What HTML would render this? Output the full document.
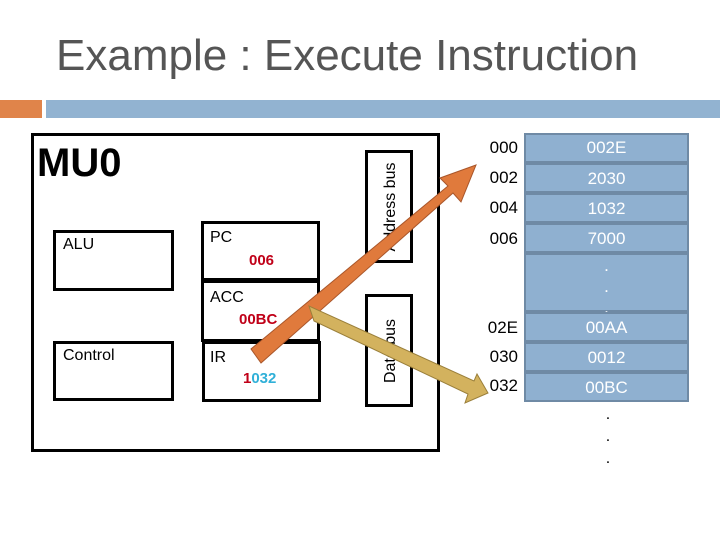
<!DOCTYPE html>
<html><head><style>
body{margin:0;width:720px;height:540px;background:#fff;position:relative;overflow:hidden;font-family:"Liberation Sans",sans-serif}
.a{position:absolute}
.b{position:absolute;border:3px solid #000;box-sizing:border-box;background:#fff}
.m{position:absolute;left:524px;width:165px;background:#8fb0d0;border:2px solid #6f8aa5;box-sizing:border-box;color:#fff;font-size:17px;text-align:center}
.ad{position:absolute;left:458px;width:60px;text-align:right;font-size:17px}
</style></head><body>
<div class="a" style="left:56px;top:31px;font-size:44px;color:#555">Example : Execute Instruction</div>
<div class="a" style="left:0;top:100px;width:42px;height:18px;background:#e0844a"></div>
<div class="a" style="left:46px;top:100px;width:674px;height:18px;background:#92b3d1"></div>
<div class="b" style="left:31px;top:133px;width:409px;height:319px"></div>
<div class="a" style="left:37px;top:141px;font-size:40px;font-weight:bold;">MU0</div>
<div class="b" style="left:53px;top:230px;width:121px;height:61px"><span class="a" style="left:7px;top:3px;font-size:16px">ALU</span></div>
<div class="b" style="left:53px;top:341px;width:121px;height:60px"><span class="a" style="left:7px;top:3px;font-size:16px">Control</span></div>
<div class="b" style="left:201px;top:221px;width:119px;height:60px"><span class="a" style="left:6px;top:5px;font-size:16px">PC</span><span class="a" style="left:45px;top:28px;font-size:15px;font-weight:bold;color:#c00018">006</span></div>
<div class="b" style="left:201px;top:280px;width:119px;height:62px"><span class="a" style="left:6px;top:6px;font-size:16px">ACC</span><span class="a" style="left:35px;top:28px;font-size:15px;font-weight:bold;color:#c00018">00BC</span></div>
<div class="b" style="left:202px;top:341px;width:119px;height:61px"><span class="a" style="left:5px;top:5px;font-size:16px">IR</span><span class="a" style="left:38px;top:26px;font-size:15px;font-weight:bold;color:#30b0d8"><span style="color:#c00018">1</span>032</span></div>
<div class="b" style="left:365px;top:150px;width:48px;height:113px"><span class="a" style="left:-37px;top:45px;width:120px;transform:rotate(-90deg);font-size:16px;text-align:center">Address bus</span></div>
<div class="b" style="left:365px;top:294px;width:48px;height:113px"><span class="a" style="left:-37px;top:45px;width:120px;transform:rotate(-90deg);font-size:16px;text-align:center">Data bus</span></div>
<svg class="a" style="left:0;top:0" width="720" height="540">
<polygon points="251,349 261,363 453,193 461,202 476,165 440,178 448,186" fill="#e07a3c" stroke="#a9562a" stroke-width="1"/>
<polygon points="309,306 314,321 468,394 465,403 488,393 477,374 474,381" fill="#d3b25e" stroke="#9a7f3a" stroke-width="1"/>
</svg>
<div class="m" style="top:133px;height:30px;line-height:26px">002E</div>
<div class="m" style="top:163px;height:30px;line-height:28px">2030</div>
<div class="m" style="top:193px;height:30px;line-height:28px">1032</div>
<div class="m" style="top:223px;height:30px;line-height:28px">7000</div>
<div class="m" style="top:253px;height:59px;line-height:21px">.<br>.<br>.</div>
<div class="m" style="top:312px;height:30px;line-height:28px">00AA</div>
<div class="m" style="top:342px;height:30px;line-height:28px">0012</div>
<div class="m" style="top:372px;height:30px;line-height:28px">00BC</div>
<div class="ad" style="top:138px">000</div>
<div class="ad" style="top:168px">002</div>
<div class="ad" style="top:198px">004</div>
<div class="ad" style="top:229px">006</div>
<div class="ad" style="top:318px">02E</div>
<div class="ad" style="top:347px">030</div>
<div class="ad" style="top:376px">032</div>
<div class="a" style="left:600px;top:404px;width:16px;text-align:center;font-size:16px;line-height:22px">.<br>.<br>.</div>
</body></html>
